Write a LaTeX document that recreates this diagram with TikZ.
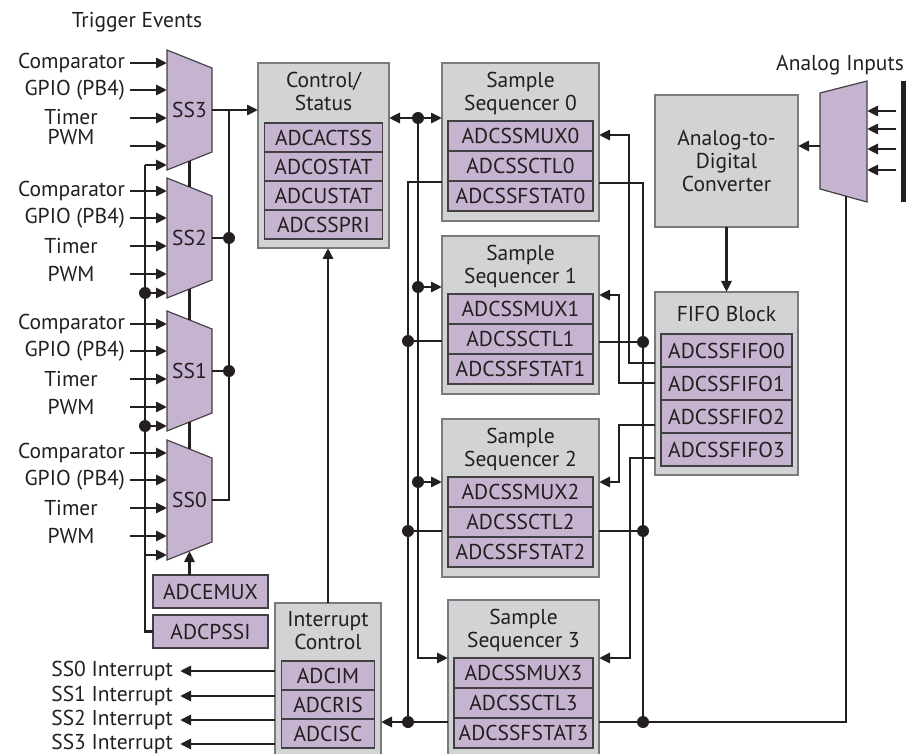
\documentclass[tikz,border=0pt]{standalone}
\usepackage{fontspec}
\setmainfont{PT Sans}
\usetikzlibrary{positioning,arrows.meta}

\definecolor{ink}{RGB}{35,31,32}
\definecolor{grpfill}{RGB}{209,211,212}
\definecolor{grpline}{RGB}{120,122,125}
\definecolor{regfill}{RGB}{197,179,207}
\definecolor{regline}{RGB}{65,64,66}

\begin{document}
\begin{tikzpicture}[x=1pt, y=-1pt,
        every node/.append style={font=\fontsize{21.5}{23}\selectfont, text=ink},
        wire/.style={draw=ink, line width=2.8pt},
        arr/.style={wire, -{Triangle[length=11pt,width=10pt]}},
        darr/.style={wire, {Triangle[length=11pt,width=10pt]}-{Triangle[length=11pt,width=10pt]}},
        dot/.style={circle, fill=ink, inner sep=0pt, minimum size=12pt},
        grp/.style={draw=grpline, fill=grpfill, line width=1.4pt, inner sep=0pt, outer sep=0pt, anchor=north west, align=center},
        reg/.style={draw=regline, fill=regfill, line width=1.2pt, inner sep=0pt, outer sep=0pt, minimum height=30pt, anchor=north},
        muxshape/.style={draw=regline, fill=regfill, line width=1.2pt},
        muxnode/.style={minimum width=45pt, minimum height=120pt, inner sep=0pt, outer sep=0pt},
        ttl/.style={align=center, inner sep=0pt}
    ]
    \useasboundingbox (0,0) rectangle (919,754);

    % trigger muxes
    \node (trig) at (137,22) {Trigger Events};
    \foreach \i/\t/\ty/\py in {3/50/67/87, 2/178/68/96, 1/311/68/96, 0/440/68/96} {
        \draw[muxshape] (167,\t) -- (212,\t+18) -- (212,\t+102) -- (167,\t+120) -- cycle;
        \node[muxnode] (ss\i) at (189.5,\t+60) {SS\i};
        \node[anchor=east, inner sep=2pt] (cmp\i) at (127,\t+13) {Comparator};
        \node[anchor=east, inner sep=2pt] (gpio\i) at (127,\t+40) {GPIO (PB4)};
        \node (tmr\i) at (71,\t+\ty) {Timer};
        \node (pwm\i) at (71,\t+\py) {PWM};
        \foreach \k/\dy in {1/13, 2/40, 3/68, 4/96} {
            \coordinate (in\i\k) at (130,\t+\dy);
            \draw[arr] (in\i\k) -- (in\i\k -| ss\i.west);
        }
        \coordinate (bus\i) at (145,\t+115);
        \draw[arr] (bus\i) -- (bus\i -| ss\i.west);
        \coordinate (sel\i) at (229,\t+60);
    }
    \draw[wire] ([yshift=9pt]ss3.south) -- ([yshift=-9pt]ss2.north);
    \draw[wire] ([yshift=9pt]ss2.south) -- ([yshift=-9pt]ss1.north);
    \draw[wire] ([yshift=9pt]ss1.south) -- ([yshift=-9pt]ss0.north);

    \node[reg, minimum width=115pt, minimum height=33pt] (emux) at (210.5,575) {ADCEMUX};
    \node[reg, minimum width=115pt, minimum height=33pt, below=7pt of emux] (pssi) {ADCPSSI};
    \draw[arr] (emux.north -| ss0.south) -- ([yshift=9pt]ss0.south);
    \draw[wire] (bus3) |- (pssi.west);
    \node[dot] at (bus2) {};
    \node[dot] at (bus1) {};

    % control / status
    \node[grp, minimum width=131pt, minimum height=185pt] (cs) at (258,63) {};
    \node[ttl, below=9pt of cs.north] (cst) {Control/\\Status};
    \node[reg, minimum width=118pt, minimum height=29pt, below=60pt of cs.north] (actss) {ADCACTSS};
    \node[reg, minimum width=118pt, minimum height=29pt, below=0pt of actss] (ostat) {ADCOSTAT};
    \node[reg, minimum width=118pt, minimum height=29pt, below=0pt of ostat] (ustat) {ADCUSTAT};
    \node[reg, minimum width=118pt, minimum height=29pt, below=0pt of ustat] (sspri) {ADCSSPRI};

    \draw[arr] (ss3.east) -- (ss3.east -| cs.west);
    \draw[wire] (sel3) |- (ss0.east);
    \draw[wire] (ss2.east) -- (sel2);
    \draw[wire] (ss1.east) -- (sel1);
    \node[dot] at (sel2) {};
    \node[dot] at (sel1) {};

    % interrupt control
    \node[grp, minimum width=106pt, minimum height=153pt] (ic) at (275,603) {};
    \node[ttl, below=8pt of ic.north] (ict) {Interrupt\\Control};
    \node[reg, minimum width=93pt, minimum height=29pt, below=58pt of ic.north] (im) {ADCIM};
    \node[reg, minimum width=93pt, minimum height=29pt, below=0pt of im] (ris) {ADCRIS};
    \node[reg, minimum width=93pt, minimum height=29pt, below=0pt of ris] (isc) {ADCISC};
    \draw[arr] (ic.north) -- (ic.north |- cs.south);
    \foreach \k/\y in {0/671, 1/696, 2/720, 3/744} {
        \node[anchor=east, inner sep=2pt] (int\k) at (175,\y) {SS\k{} Interrupt};
        \draw[arr] (int\k.east -| ic.west) -- ([xshift=5pt]int\k.east);
    }

    % sample sequencers
    \foreach \j/\x/\y/\w/\rw in {0/442/63/157/145, 1/442/236/157/145, 2/442/419/157/145, 3/448/600/151/139} {
        \node[grp, minimum width=\w pt, minimum height=158pt] (seq\j) at (\x,\y) {};
        \node[ttl, below=9pt of seq\j.north] (seq\j t) {Sample\\Sequencer \j};
        \node[reg, minimum width=\rw pt, below=58pt of seq\j.north] (ssmux\j) {ADCSSMUX\j};
        \node[reg, minimum width=\rw pt, below=0pt of ssmux\j] (ssctl\j) {ADCSSCTL\j};
        \node[reg, minimum width=\rw pt, below=0pt of ssctl\j] (ssfstat\j) {ADCSSFSTAT\j};
    }

    % left buses
    \coordinate (hub) at (418,118);
    \draw[darr] (hub -| cs.east) -- (hub -| seq0.west);
    \coordinate (bB1) at (418,287);
    \coordinate (bB2) at (418,482);
    \coordinate (bB3) at (418,658);
    \draw[arr] (hub) |- (bB3 -| seq3.west);
    \draw[arr] (bB1) -- (bB1 -| seq1.west);
    \draw[arr] (bB2) -- (bB2 -| seq2.west);
    \coordinate (bA0) at (408,182);
    \coordinate (bA1) at (408,341);
    \coordinate (bA2) at (408,531);
    \coordinate (bA3) at (408,722);
    \draw[wire] (bA0 -| seq0.west) -| (bA3);
    \draw[wire] (bA1) -- (bA1 -| seq1.west);
    \draw[wire] (bA2) -- (bA2 -| seq2.west);
    \draw[wire] (bA3 -| seq3.west) -- (bA3);
    \draw[arr] (bA3) -- (bA3 -| ic.east);
    \foreach \n in {hub, bB1, bB2, bA1, bA2, bA3}
        \node[dot] at (\n) {};

    % ADC, FIFO and analog mux
    \node[grp, minimum width=143pt, minimum height=132pt] (adc) at (655,95) {Analog-to-\\Digital\\Converter};
    \node[grp, minimum width=143pt, minimum height=183pt] (fifo) at (655,292) {};
    \node[ttl, below=14pt of fifo.north] (fifot) {FIFO Block};
    \node[reg, minimum width=131pt, minimum height=33pt, below=42pt of fifo.north] (ssfifo0) {ADCSSFIFO0};
    \node[reg, minimum width=131pt, minimum height=33pt, below=0pt of ssfifo0] (ssfifo1) {ADCSSFIFO1};
    \node[reg, minimum width=131pt, minimum height=33pt, below=0pt of ssfifo1] (ssfifo2) {ADCSSFIFO2};
    \node[reg, minimum width=131pt, minimum height=33pt, below=0pt of ssfifo2] (ssfifo3) {ADCSSFIFO3};
    \draw[arr] (adc.south) -- (fifo.north);

    \draw[muxshape] (820,93) -- (867,81) -- (867,202) -- (820,189) -- cycle;
    \coordinate (aout) at (820,146);
    \coordinate (asel) at (846,196);
    \draw[arr] (aout) -- (aout -| adc.east);
    \node (ain) at (840,65) {Analog Inputs};
    \node[fill=ink, minimum width=5pt, minimum height=121pt, inner sep=0pt] (bar) at (903,141.5) {};
    \foreach \k/\y in {1/111, 2/129, 3/149, 4/170} {
        \coordinate (ain\k) at (867,\y);
        \draw[arr] ([xshift=-4pt]ain\k -| bar.west) -- (ain\k);
    }

    % right buses
    \coordinate (fo0) at (655,363);
    \coordinate (fo1) at (655,383);
    \coordinate (fo2) at (655,425);
    \coordinate (fo3) at (655,458);
    \coordinate (m0) at (629,135);
    \coordinate (m1) at (619,295);
    \coordinate (m2) at (619,482);
    \coordinate (m3) at (630,658);
    \draw[arr] (fo0) -| (m0) -- (m0 -| seq0.east);
    \draw[arr] (fo1) -| (m1) -- (m1 -| seq1.east);
    \draw[arr] (fo2) -| (m2) -- (m2 -| seq2.east);
    \draw[arr] (fo3) -| (m3) -- (m3 -| seq3.east);
    \coordinate (bC0) at (643,183);
    \coordinate (bC1) at (643,342);
    \coordinate (bC2) at (643,531);
    \coordinate (bC3) at (643,722);
    \draw[wire] (bC0 -| seq0.east) -| (bC3);
    \draw[wire] (bC1 -| seq1.east) -- (bC1);
    \draw[wire] (bC2 -| seq2.east) -- (bC2);
    \draw[wire] (bC3 -| seq3.east) -- (bC3);
    \draw[wire] (bC3) -| (asel);
    \foreach \n in {bC1, bC2, bC3}
        \node[dot] at (\n) {};
\end{tikzpicture}
\end{document}
